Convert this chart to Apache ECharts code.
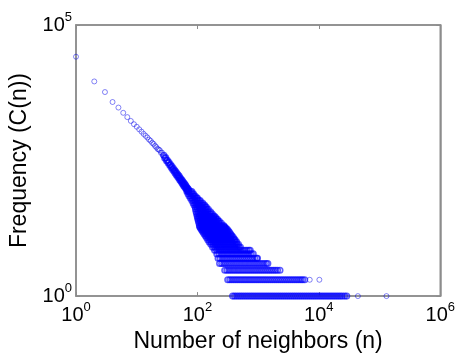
<!DOCTYPE html>
<html>
<head>
<meta charset="utf-8">
<script src="https://cdn.jsdelivr.net/npm/echarts@6/dist/echarts.min.js"></script>
<style>
  html, body { margin: 0; padding: 0; background: #fff; }
  #main { width: 458px; height: 358px; }
</style>
</head>
<body>
<div id="main"></div>
<script>
  // neighbor count n vs frequency C(n)
  // upper part of the curve, one point per n, drawn thin
  var headPoints = [
    [1, 26000], [2, 9100], [3, 5800], [4, 3800], [5, 3000], [6, 2400], [7, 2000], [8, 1700],
    [9, 1480], [10, 1330], [11, 1190], [12, 1080], [13, 980], [14, 905], [15, 840], [16, 770],
    [17, 730], [18, 670], [19, 640], [20, 590], [21, 560], [22, 520], [23, 505], [24, 490],
    [25, 440], [26, 445], [27, 395]
  ];
  // where the curve thickens into a band
  var bandPoints = [
    [28, 395], [29, 350], [30, 360], [31, 315], [32, 320], [33, 285], [34, 295], [35, 258],
    [36, 268], [37, 236], [38, 248], [39, 216], [40, 228], [41, 200], [42, 212], [43, 185],
    [44, 198], [45, 172], [46, 184], [47, 160], [48, 172], [49, 150], [50, 163], [51, 140],
    [52, 152], [53, 132], [54, 143], [55, 124], [56, 136], [57, 117], [58, 128], [59, 110],
    [60, 121], [61, 105], [62, 116], [63, 100], [64, 110], [65, 95], [66, 104], [67, 92],
    [68, 99], [69, 88], [70, 95], [71, 86], [72, 91]
  ];
  // lone points far out on the tail
  var tailPoints = [[44000, 1], [130000, 1], [7080, 2], [10200, 2]];

  // for each low frequency level, the n values that share it
  var levels = [85, 77, 70, 64, 58, 52, 48, 44, 40, 36, 33, 30, 28, 26, 24, 22, 20, 19, 18, 17, 16, 15,
    14, 13, 12, 11, 10, 9, 8, 7, 6, 5, 4, 3, 2, 1];
  var row85 = [67, 72, 77, 81];
  var row77 = [70, 76, 82, 86];
  var row70 = [73, 78, 84, 88, 92];
  var row64 = [77, 83, 90, 97, 100];
  var row58 = [81, 87, 93, 100, 106, 111];
  var row52 = [85, 92, 99, 107, 115, 122];
  var row48 = [88, 95, 102, 110, 118, 125, 131];
  var row44 = [92, 99, 107, 116, 125, 135, 140];
  var row40 = [93, 100, 108, 116, 125, 134, 143, 151];
  var row36 = [95, 103, 111, 120, 130, 140, 151, 164];
  var row33 = [97, 105, 113, 122, 131, 141, 152, 163, 175];
  var row30 = [99, 107, 116, 125, 135, 146, 157, 170, 183, 190];
  var row28 = [101, 109, 117, 126, 136, 147, 158, 170, 184, 200];
  var row26 = [102, 110, 119, 128, 139, 150, 162, 175, 189, 204, 214];
  var row24 = [104, 112, 121, 130, 140, 151, 163, 176, 190, 205, 220, 230];
  var row22 = [106, 114, 123, 133, 144, 155, 168, 181, 196, 211, 228, 248];
  var row20 = [108, 116, 125, 135, 146, 157, 170, 183, 197, 213, 230, 248, 270];
  var row19 = [109, 118, 127, 137, 148, 160, 173, 187, 202, 218, 235, 254, 272, 281];
  var row18 = [112, 121, 131, 141, 152, 165, 178, 192, 207, 224, 242, 261, 282, 295];
  var row17 = [116, 125, 135, 146, 157, 170, 183, 198, 213, 230, 248, 268, 290, 310];
  var row16 = [120, 130, 140, 151, 163, 176, 190, 205, 222, 240, 259, 280, 302, 324];
  var row15 = [124, 134, 145, 156, 169, 182, 197, 213, 230, 248, 268, 289, 312, 338];
  var row14 = [129, 139, 150, 162, 175, 189, 204, 220, 237, 256, 276, 298, 322, 354];
  var row13 = [135, 146, 157, 170, 183, 198, 214, 231, 249, 269, 290, 314, 339, 360, 372];
  var row12 = [141, 152, 164, 177, 191, 206, 222, 240, 259, 280, 302, 326, 352, 391];
  var row11 = [148, 160, 172, 186, 201, 217, 234, 253, 273, 295, 318, 344, 371, 400, 415];
  var row10 = [156, 168, 181, 196, 211, 228, 246, 266, 287, 310, 335, 362, 390, 420, 442];
  var row9 = [166, 179, 193, 208, 225, 243, 262, 283, 306, 330, 356, 385, 415, 445, 473];
  var row8 = [178, 192, 207, 224, 242, 261, 282, 305, 329, 355, 383, 414, 447, 480, 510];
  var row7 = [192, 207, 224, 242, 261, 282, 304, 329, 355, 383, 414, 447, 483, 520, 560, 605, 650, 700, 740];
  var row6 = [209, 226, 244, 263, 284, 307, 331, 358, 386, 417, 450, 486, 525, 567, 612, 661, 714, 771, 830];
  var row5 = [219, 236, 255, 276, 298, 321, 347, 375, 405, 437, 472, 510, 551, 595, 643, 694, 750, 810, 875, 945, 977];
  var row4 = [232, 251, 271, 292, 316, 341, 368, 398, 430, 464, 501, 541, 585, 631, 682, 736, 795, 859, 928,
    1002, 1082, 1169, 1262, 1363, 1445];
  var row3 = [282, 305, 329, 355, 384, 414, 448, 483, 522, 564, 609, 658, 710, 767, 829, 895, 966, 1044, 1127,
    1217, 1315, 1420, 1533, 1656, 1789, 1932, 2086, 2290];
  var row2 = [316, 341, 368, 398, 430, 464, 501, 541, 585, 631, 682, 736, 795, 859, 928, 1002, 1082, 1169, 1262,
    1363, 1472, 1590, 1717, 1855, 2003, 2163, 2336, 2523, 2725, 2943, 3179, 3433, 3708, 4004, 4325, 4671,
    5045, 5400, 5850];
  var row1 = [380, 410, 443, 479, 517, 558, 603, 651, 703, 760, 820, 886, 957, 1033, 1116, 1205, 1302, 1406,
    1518, 1640, 1771, 1913, 2066, 2231, 2410, 2602, 2811, 3035, 3278, 3541, 3824, 4130, 4460, 4817, 5202,
    5619, 6068, 6554, 7078, 7644, 8256, 8916, 9630, 10400, 11232, 12131, 13101, 14149, 15281, 16504, 17824,
    19250, 20790, 22453, 24249, 26500, 28800];
  var rowLists = [row85, row77, row70, row64, row58, row52, row48, row44, row40, row36, row33, row30, row28,
    row26, row24, row22, row20, row19, row18, row17, row16, row15, row14, row13, row12, row11, row10,
    row9, row8, row7, row6, row5, row4, row3, row2, row1];

  var xTitle = 'Number of neighbors (n)';
  var yTitle = 'Frequency (C(n))';

  var densePoints = bandPoints.slice();
  for (var i = 0; i < rowLists.length; i++) {
    for (var j = 0; j < rowLists[i].length; j++) {
      densePoints.push([rowLists[i][j], levels[i]]);
    }
  }
  var sparsePoints = headPoints.concat(tailPoints);

  var FONT = '"Liberation Sans", Arial, sans-serif';
  var AXIS_GREY = '#8c8c8c';

  function powLabel(v) {
    var e = Math.round(Math.log(v) / Math.LN10);
    return '{b|10}{e|' + e + '}';
  }
  var labelRich = {
    b: { fontSize: 20, fontFamily: FONT, color: '#000', lineHeight: 20, verticalAlign: 'bottom' },
    e: { fontSize: 13, fontFamily: FONT, color: '#000', lineHeight: 13, verticalAlign: 'bottom', padding: [0, 0, 11, 0] }
  };

  var chart = echarts.init(document.getElementById('main'));
  chart.setOption({
    animation: false,
    backgroundColor: '#fff',
    grid: {
      left: 76, right: 17, top: 25, bottom: 58,
      show: true, borderColor: AXIS_GREY, borderWidth: 1.5, backgroundColor: '#fff'
    },
    xAxis: [{
      type: 'log', logBase: 10, min: 1, max: 1e6, interval: 2,
      position: 'bottom',
      axisLine: { show: true, lineStyle: { color: AXIS_GREY, width: 1.5 } },
      axisTick: { inside: true, length: 4, lineStyle: { color: AXIS_GREY } },
      minorTick: { show: false },
      splitLine: { show: false },
      axisLabel: { margin: 9, formatter: powLabel, rich: labelRich },
      name: xTitle, nameLocation: 'middle', nameGap: 29,
      nameTextStyle: { fontSize: 23, fontFamily: FONT, color: '#000' }
    }, {
      type: 'log', logBase: 10, min: 1, max: 1e6, interval: 2,
      position: 'top',
      axisLine: { show: true, lineStyle: { color: AXIS_GREY, width: 1.5 } },
      axisTick: { inside: true, length: 4, lineStyle: { color: AXIS_GREY } },
      splitLine: { show: false },
      axisLabel: { show: false }
    }],
    yAxis: [{
      type: 'log', logBase: 10, min: 1, max: 1e5, interval: 5,
      position: 'left',
      axisLine: { show: true, lineStyle: { color: AXIS_GREY, width: 1.5 } },
      axisTick: { inside: true, length: 4, lineStyle: { color: AXIS_GREY } },
      minorTick: { show: false },
      splitLine: { show: false },
      axisLabel: { margin: 4, formatter: powLabel, rich: labelRich },
      name: yTitle, nameLocation: 'middle', nameGap: 41,
      nameTextStyle: { fontSize: 23, fontFamily: FONT, color: '#000' }
    }, {
      type: 'log', logBase: 10, min: 1, max: 1e5, interval: 5,
      position: 'right',
      axisLine: { show: true, lineStyle: { color: AXIS_GREY, width: 1.5 } },
      axisTick: { inside: true, length: 4, lineStyle: { color: AXIS_GREY } },
      splitLine: { show: false },
      axisLabel: { show: false }
    }],
    series: [{
      type: 'scatter',
      data: sparsePoints,
      symbol: 'circle',
      symbolSize: 5,
      itemStyle: { color: 'transparent', borderColor: 'rgba(0, 0, 235, 0.6)', borderWidth: 1 },
      emphasis: { disabled: true }
    }, {
      type: 'scatter',
      data: densePoints,
      symbol: 'circle',
      symbolSize: 5.5,
      itemStyle: { color: 'transparent', borderColor: 'rgba(0, 0, 255, 0.8)', borderWidth: 1.6 },
      emphasis: { disabled: true }
    }]
  });
</script>
</body>
</html>
